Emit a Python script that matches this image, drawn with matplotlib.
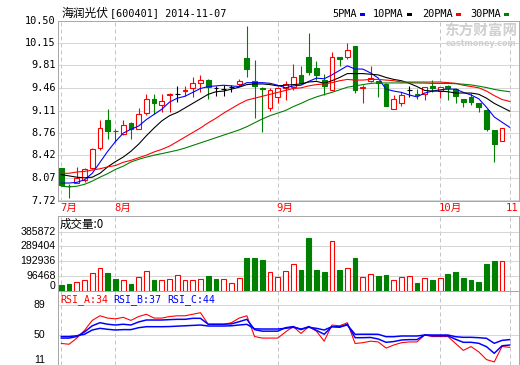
import matplotlib
matplotlib.use("Agg")
import matplotlib.pyplot as plt
from matplotlib.patches import Rectangle

# ---------------- data ----------------
opens = [8.22, 7.95, 7.99, 8.03, 8.22, 8.53, 8.96, 8.80, 8.74, 8.92,
         8.83, 9.07, 9.28, 9.20, 9.35, 9.36, 9.41, 9.45, 9.54, 9.58,
         9.45, 9.44, 9.47, 9.52, 9.92, 9.56, 9.46, 9.15, 9.32, 9.45,
         9.47, 9.66, 9.94, 9.76, 9.58, 9.42, 9.93, 9.94, 10.11, 9.46,
         9.57, 9.56, 9.52, 9.14, 9.23, 9.42, 9.36, 9.36, 9.49, 9.41,
         9.49, 9.44, 9.28, 9.32, 9.22, 9.12, 8.81, 8.64]
highs = [8.22, 7.98, 8.24, 8.22, 8.53, 8.97, 9.14, 8.82, 8.97, 8.94,
         9.15, 9.36, 9.36, 9.37, 9.38, 9.49, 9.49, 9.63, 9.66, 9.59,
         9.49, 9.50, 9.51, 9.59, 10.42, 9.89, 9.48, 9.45, 9.47, 9.56,
         9.83, 9.79, 10.30, 9.88, 9.67, 10.02, 9.93, 10.16, 10.11, 9.50,
         9.80, 9.57, 9.53, 9.35, 9.40, 9.49, 9.44, 9.47, 9.58, 9.47,
         9.50, 9.45, 9.29, 9.38, 9.22, 9.13, 8.81, 8.84]
lows = [7.96, 7.76, 7.99, 8.00, 8.20, 8.50, 8.67, 8.62, 8.73, 8.67,
        8.83, 9.04, 9.06, 9.09, 9.09, 9.24, 9.33, 9.32, 9.40, 9.29,
        9.33, 9.33, 9.40, 9.49, 9.63, 9.00, 8.78, 9.11, 9.23, 9.27,
        9.43, 9.53, 9.66, 9.58, 9.35, 9.42, 9.79, 9.90, 9.38, 9.23,
        9.55, 9.32, 9.18, 9.14, 9.18, 9.32, 9.28, 9.27, 9.40, 9.31,
        9.27, 9.22, 9.16, 9.19, 9.09, 8.79, 8.31, 8.64]
closes = [7.96, 7.94, 8.06, 8.21, 8.51, 8.84, 8.79, 8.79, 8.88, 8.82,
          9.06, 9.28, 9.23, 9.25, 9.36, 9.36, 9.42, 9.53, 9.58, 9.47,
          9.45, 9.44, 9.47, 9.57, 9.75, 9.49, 9.44, 9.42, 9.45, 9.52,
          9.62, 9.53, 9.71, 9.66, 9.49, 9.93, 9.90, 10.05, 9.42, 9.47,
          9.61, 9.53, 9.18, 9.28, 9.35, 9.42, 9.355, 9.47, 9.45, 9.47,
          9.46, 9.34, 9.24, 9.24, 9.16, 8.82, 8.59, 8.84]

ma5 = [7.99, 7.99, 8.00, 8.04, 8.14, 8.31, 8.48, 8.63, 8.76, 8.82,
       8.87, 8.97, 9.05, 9.13, 9.24, 9.30, 9.33, 9.39, 9.45, 9.48,
       9.49, 9.50, 9.49, 9.48, 9.54, 9.54, 9.54, 9.53, 9.50, 9.46,
       9.49, 9.50, 9.56, 9.61, 9.60, 9.66, 9.73, 9.80, 9.75, 9.75,
       9.69, 9.61, 9.44, 9.41, 9.39, 9.35, 9.32, 9.38, 9.41, 9.43,
       9.44, 9.44, 9.39, 9.35, 9.29, 9.16, 9.01, 8.93, 8.85]
ma10 = [8.12, 8.10, 8.08, 8.07, 8.08, 8.14, 8.24, 8.32, 8.39, 8.48,
        8.59, 8.72, 8.84, 8.95, 9.03, 9.08, 9.15, 9.22, 9.29, 9.36,
        9.40, 9.41, 9.44, 9.47, 9.51, 9.52, 9.52, 9.51, 9.49, 9.50,
        9.51, 9.52, 9.55, 9.56, 9.53, 9.57, 9.62, 9.68, 9.68, 9.68,
        9.67, 9.66, 9.62, 9.59, 9.57, 9.53, 9.48, 9.42, 9.41, 9.41,
        9.40, 9.38, 9.38, 9.38, 9.36, 9.30, 9.22, 9.16, 9.10]
ma20 = [8.14, 8.14, 8.16, 8.17, 8.19, 8.21, 8.24, 8.26, 8.31, 8.34,
        8.38, 8.42, 8.47, 8.51, 8.56, 8.63, 8.70, 8.77, 8.84, 8.92,
        8.99, 9.07, 9.14, 9.21, 9.27, 9.30, 9.33, 9.36, 9.39, 9.42,
        9.45, 9.46, 9.49, 9.51, 9.52, 9.54, 9.57, 9.59, 9.58, 9.58,
        9.59, 9.59, 9.58, 9.57, 9.55, 9.55, 9.55, 9.55, 9.55, 9.55,
        9.54, 9.53, 9.50, 9.48, 9.46, 9.41, 9.34, 9.28, 9.25]
ma30 = [7.94, 7.93, 7.94, 7.97, 8.02, 8.08, 8.135, 8.20, 8.25, 8.315,
        8.356, 8.39, 8.42, 8.444, 8.47, 8.496, 8.53, 8.57, 8.61, 8.65,
        8.69, 8.73, 8.77, 8.81, 8.86, 8.92, 8.98, 9.03, 9.07, 9.11,
        9.17, 9.22, 9.275, 9.32, 9.356, 9.39, 9.43, 9.47, 9.49, 9.51,
        9.528, 9.537, 9.535, 9.536, 9.535, 9.537, 9.535, 9.533, 9.528, 9.528,
        9.528, 9.524, 9.516, 9.505, 9.486, 9.464, 9.436, 9.416, 9.40]

volume = [36100, 42700, 55800, 68900, 112800, 145700, 116800, 75500, 66900, 42700,
          86600, 126000, 68900, 66900, 73500, 99700, 68900, 68900, 73500, 95200,
          75500, 73500, 51200, 80100, 211300, 211300, 200100, 119400, 86600, 126000,
          171900, 134500, 344500, 134500, 121400, 322900, 134500, 145700, 213300, 86600,
          108300, 95200, 101700, 66900, 86600, 93200, 51200, 80100, 68900, 80100,
          108300, 121400, 82000, 68900, 55800, 173900, 193600, 193600]
vol_up = [0, 0, 1, 1, 1, 1, 0, 0, 1, 0,
          1, 1, 0, 1, 1, 1, 1, 1, 1, 0,
          0, 1, 1, 1, 0, 0, 0, 1, 1, 1,
          1, 0, 0, 0, 0, 1, 0, 1, 0, 1,
          1, 0, 0, 1, 1, 1, 0, 1, 0, 1,
          0, 0, 0, 0, 0, 0, 0, 1]

rsi_a = [39, 38, 46, 56, 69, 75, 72, 71, 73, 69,
         74, 77, 72, 72, 74, 75, 75, 77, 79, 64,
         64, 64, 66, 72, 75, 48, 46, 46, 46, 54,
         61, 52, 61, 55, 42, 63, 62, 66, 39, 40,
         42, 41, 33, 37, 40, 41, 41, 50, 48, 48,
         48, 39, 30, 35, 28, 18, 15, 35, 34]
rsi_b = [46, 46, 48, 54, 62, 66, 64, 63, 64, 63,
         67, 69.5, 69.5, 69.5, 70, 70.4, 70.4, 71.7, 71.7, 64,
         64, 64, 64.5, 67.3, 70.4, 57, 55, 55, 55, 59.5,
         61, 57, 61, 56, 51, 61, 60, 64, 46.5, 46.5,
         46.8, 44.8, 40.5, 41.5, 43.5, 44, 44, 50, 49, 49,
         49, 44.4, 40.5, 40.5, 39.2, 34.8, 26.2, 36, 37]
rsi_c = [48, 48, 49, 51, 56.5, 58.7, 57.4, 56.5, 57, 57,
         59.5, 60.8, 60.8, 60.8, 61, 61.5, 62, 62.5, 63, 61.7,
         61.7, 61.7, 62, 63, 63.9, 58, 57.8, 57.8, 57.8, 58.7,
         60, 57.8, 60, 58.7, 56.5, 60.8, 60.8, 63, 50.9, 51,
         51, 50.9, 47.8, 47.8, 48.7, 48.7, 48.7, 50, 50, 50,
         50, 47.8, 47, 47, 46.5, 45.7, 39.2, 43, 44]

price_ticks = [7.72, 8.07, 8.42, 8.76, 9.11, 9.46, 9.81, 10.15, 10.50]
price_labels = ["7.72", "8.07", "8.42", "8.76", "9.11", "9.46", "9.81", "10.15", "10.50"]
vol_ticks = [0, 96468, 192936, 289404, 385872]
vol_labels = ["0", "96468", "192936", "289404", "385872"]
rsi_ticks = [11, 50, 89]
rsi_labels = ["11", "50", "89"]
month_idx = [0, 7, 28, 49, 58]
month_labels = ["7月", "8月", "9月", "10月", "11"]
ma_names = ["5PMA", "10PMA", "20PMA", "30PMA"]

# ---------------- styling ----------------
RED, GREEN, BLUE, BLACK = "#ff0000", "#008000", "#0000ff", "#000000"
GRID, SPINE, DASH = "#d6d6d6", "#a8a8a8", "#c4c4c4"
MONO = ["DejaVu Sans Mono", "Noto Sans CJK SC"]
CJK = ["Noto Sans CJK SC", "DejaVu Sans"]
SANS = ["Liberation Sans", "DejaVu Sans"]
PX = 0.72  # one pixel in points at dpi 100

W, H = 520, 365
fig = plt.figure(figsize=(W / 100, H / 100), dpi=100)
fig.patch.set_facecolor("white")

L, R = 58, 519
XMIN, XMAX = -0.43, 59.2


def add_ax(top, bottom):
    return fig.add_axes([L / W, 1 - bottom / H, (R - L) / W, (bottom - top) / H])


def fx(px):
    return px / W


def fy(py):
    return 1 - py / H


def xpix(i):
    return L + (i - XMIN) / (XMAX - XMIN) * (R - L)


ax_p = add_ax(20.5, 200.5)
ax_v = add_ax(216, 290.5)
ax_r = add_ax(290.5, 365)

for ax in (ax_p, ax_v, ax_r):
    ax.set_xlim(XMIN, XMAX)
    ax.set_xticks([])
    ax.set_yticks([])
    for s in ax.spines.values():
        s.set_color(SPINE)
        s.set_linewidth(PX)
    for mi in month_idx:
        ax.axvline(mi, color=DASH, lw=PX, ls=(0, (4, 3)), zorder=0)

# ---------------- price panel ----------------
P0, P1 = 7.72, 10.50
ax_p.set_ylim(P0, P1)
for t in price_ticks:
    ax_p.axhline(t, color=GRID, lw=PX, zorder=0)
for t, lab in zip(price_ticks, price_labels):
    yp = 20.5 + (P1 - t) / (P1 - P0) * 180
    fig.text(fx(55.5), fy(yp), lab, ha="right", va="center",
             family=MONO, fontsize=7.4, color="black")

BW = 0.62
for i in range(len(closes)):
    o, h, l, c = opens[i], highs[i], lows[i], closes[i]
    if c > o:
        col, face = RED, "white"
    elif c < o:
        col, face = GREEN, GREEN
    else:
        col, face = BLACK, BLACK
    ax_p.vlines(i, l, h, color=col, lw=PX * 1.1, zorder=2)
    ax_p.add_patch(Rectangle((i - BW / 2, min(o, c)), BW, abs(c - o),
                             facecolor=face, edgecolor=col, lw=PX * 1.1, zorder=3))

xl = list(range(len(ma5)))
ax_p.plot(xl, ma5, color=BLUE, lw=PX * 1.1, zorder=4)
ax_p.plot(xl, ma10, color=BLACK, lw=PX * 1.1, zorder=4)
ax_p.plot(xl, ma20, color=RED, lw=PX * 1.1, zorder=4)
ax_p.plot(xl, ma30, color=GREEN, lw=PX * 1.1, zorder=4)

# month labels
for k, (mi, lab) in enumerate(zip(month_idx, month_labels)):
    if k == len(month_idx) - 1:
        fig.text(fx(518.5), fy(208), lab, ha="right", va="center",
                 family=MONO, fontsize=7.6, color=RED)
    else:
        fig.text(fx(xpix(mi) - 1.5), fy(208), lab, ha="left", va="center",
                 family=MONO, fontsize=7.6, color=RED)

# ---------------- volume panel ----------------
VTOP = 385872 * (290.5 - 216) / (290.5 - 231.7)
ax_v.set_ylim(0, VTOP)
for t in vol_ticks[1:]:
    ax_v.axhline(t, color=GRID, lw=PX, zorder=0)
for t, lab in zip(vol_ticks, vol_labels):
    yp = 290.5 - t / VTOP * (290.5 - 216)
    yp = min(yp, 286)
    fig.text(fx(55.5), fy(yp), lab, ha="right", va="center",
             family=SANS, fontsize=7.6, color="black")
for i, v in enumerate(volume):
    if vol_up[i]:
        ax_v.add_patch(Rectangle((i - BW / 2, 0), BW, v, facecolor="white",
                                 edgecolor=RED, lw=PX * 1.1, zorder=3))
    else:
        ax_v.add_patch(Rectangle((i - BW / 2, 0), BW, v, facecolor=GREEN,
                                 edgecolor=GREEN, lw=PX * 1.1, zorder=3))
fig.text(fx(60), fy(224.5), "成交量:0", ha="left", va="center",
         family=CJK, fontsize=8.3, color="black")

# ---------------- RSI panel ----------------
R0 = 11
RTOP = 11 + (365 - 290.5) / 0.769
ax_r.set_ylim(R0, RTOP)
for t in rsi_ticks[1:]:
    ax_r.axhline(t, color=GRID, lw=PX, zorder=0)
for t, lab in zip(rsi_ticks, rsi_labels):
    yp = 365 - (t - R0) / (RTOP - R0) * (365 - 290.5)
    yp = min(yp, 360)
    fig.text(fx(45.5), fy(yp), lab, ha="right", va="center",
             family=SANS, fontsize=7.6, color="black")
ax_r.plot(xl, rsi_a, color=RED, lw=PX * 1.1, zorder=3)
ax_r.plot(xl, rsi_b, color=BLUE, lw=PX * 1.5, zorder=4)
ax_r.plot(xl, rsi_c, color=BLUE, lw=PX * 1.5, zorder=4)
fig.text(fx(60), fy(300), f"RSI_A:{rsi_a[-1]:.0f}", ha="left", va="center",
         family=MONO, fontsize=7.1, color=RED)
fig.text(fx(113), fy(300), f"RSI_B:{rsi_b[-1]:.0f}", ha="left", va="center",
         family=MONO, fontsize=7.1, color=BLUE)
fig.text(fx(167), fy(300), f"RSI_C:{rsi_c[-1]:.0f}", ha="left", va="center",
         family=MONO, fontsize=7.1, color=BLUE)

# ---------------- title, legend, watermark ----------------
fig.text(fx(61), fy(13.5), "海润光伏", ha="left", va="center",
         family=CJK, fontsize=8.5, color="black")
fig.text(fx(110), fy(13.5), "[600401] 2014-11-07", ha="left", va="center",
         family=MONO, fontsize=7.3, color="black")

leg_x = [332, 373, 422, 470]
leg_colors = [BLUE, BLACK, RED, GREEN]
for name, lx, lc in zip(ma_names, leg_x, leg_colors):
    fig.text(fx(lx), fy(14), name, ha="left", va="center",
             family=MONO, fontsize=7.4, color="black")
    mx = lx + len(name) * 6.2 + 3
    fig.add_artist(Rectangle((fx(mx), fy(15.5)), 5 / W, 3 / H,
                             transform=fig.transFigure, facecolor=lc,
                             edgecolor="none"))

fig.text(fx(481), fy(31), "东方财富网", ha="center", va="center",
         family=CJK, fontsize=10.5, fontweight="bold", color="#d0d0d0")
fig.text(fx(481), fy(43), "eastmoney.com", ha="center", va="center",
         family=["DejaVu Sans"], fontsize=5.8, fontweight="bold", color="#d0d0d0")

fig.savefig("out.png", dpi=100, facecolor="white")
